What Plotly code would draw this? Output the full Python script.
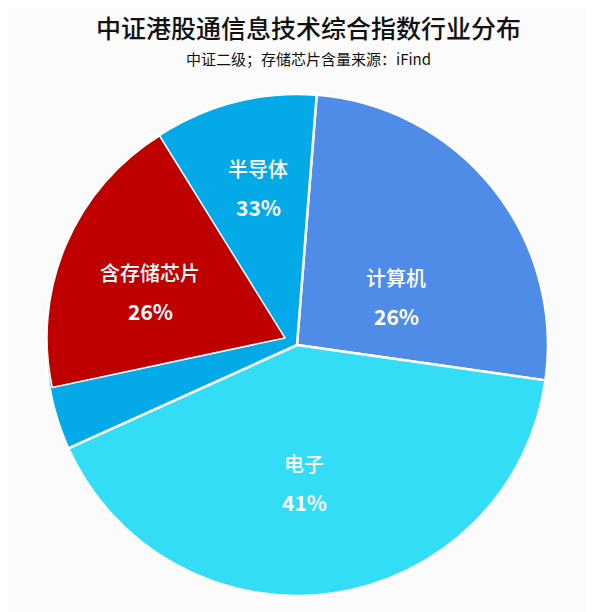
import plotly.graph_objects as go

# base pie: 计算机, 电子, 半导体
labels = ["计算机", "电子", "半导体"]
values = [26, 41, 33]
colors = ["#4F8CE8", "#33DDF5", "#04A9E8"]

# 含存储芯片 share of the index, drawn as a slightly offset slice on top of 半导体
memory_label = "含存储芯片"
memory_value = 19.5

# text shown on the slices
label_names = ["计算机", "电子", "半导体", "含存储芯片"]
label_pcts = ["26%", "41%", "33%", "26%"]

title = "中证港股通信息技术综合指数行业分布"
subtitle = "中证二级；存储芯片含量来源：iFind"

font_cjk = "Noto Sans CJK SC"

# plot area in page pixels (the page body has an 8px margin)
PX_L, PX_T, PX_SIZE = 46, 94, 502


def to_paper(px, py):
    return (px - PX_L) / PX_SIZE, (PX_T + PX_SIZE - py) / PX_SIZE


# where each label's first line sits, in page pixels
label_pos = [(396, 277), (304, 463), (258, 168), (150, 272)]

fig = go.Figure()

fig.add_trace(go.Pie(
    labels=labels,
    values=values,
    textinfo="none",
    sort=False,
    direction="clockwise",
    rotation=4.5,
    marker=dict(colors=colors, line=dict(color="white", width=2.5)),
    hoverinfo="label+percent",
    showlegend=False,
    domain=dict(x=[0, 1], y=[0, 1]),
))

fig.add_trace(go.Pie(
    labels=[memory_label, "其他"],
    values=[memory_value, 100 - memory_value],
    textinfo="none",
    sort=False,
    direction="clockwise",
    rotation=258,
    marker=dict(colors=["#BE0000", "rgba(0,0,0,0)"],
                line=dict(color=["white", "rgba(0,0,0,0)"], width=[1.5, 0])),
    hoverinfo="label",
    showlegend=False,
    domain=dict(x=[0.002, 0.95], y=[0.04, 0.988]),
))

annotations = []
for name, pct, (px, py) in zip(label_names, label_pcts, label_pos):
    x, y = to_paper(px, py)
    annotations.append(dict(text=name, x=x, y=y, xref="paper", yref="paper",
                            xanchor="center", yanchor="middle", showarrow=False,
                            font=dict(family=font_cjk, size=20, color="white", weight=500)))
    annotations.append(dict(text=pct, x=x, y=y, xref="paper", yref="paper",
                            xanchor="center", yanchor="middle", yshift=-39, showarrow=False,
                            font=dict(family=font_cjk, size=21, color="white", weight=600)))

tx, ty = to_paper(308, 27)
annotations.append(dict(text=title, x=tx, y=ty, xref="paper", yref="paper",
                        xanchor="center", yanchor="middle", showarrow=False, borderpad=0,
                        font=dict(family=font_cjk, size=25, color="#111111", weight=500)))
sx, sy = to_paper(308, 58)
annotations.append(dict(text=subtitle, x=sx, y=sy, xref="paper", yref="paper",
                        xanchor="center", yanchor="middle", showarrow=False,
                        font=dict(family=font_cjk, size=15, color="#111111")))

fig.update_layout(
    width=586,
    height=604,
    margin=dict(l=PX_L - 8, r=586 - (PX_L - 8) - PX_SIZE, t=PX_T - 8, b=604 - (PX_T - 8) - PX_SIZE),
    paper_bgcolor="#FBFBFB",
    plot_bgcolor="#FBFBFB",
    annotations=annotations,
)

fig.write_html("out.html")
